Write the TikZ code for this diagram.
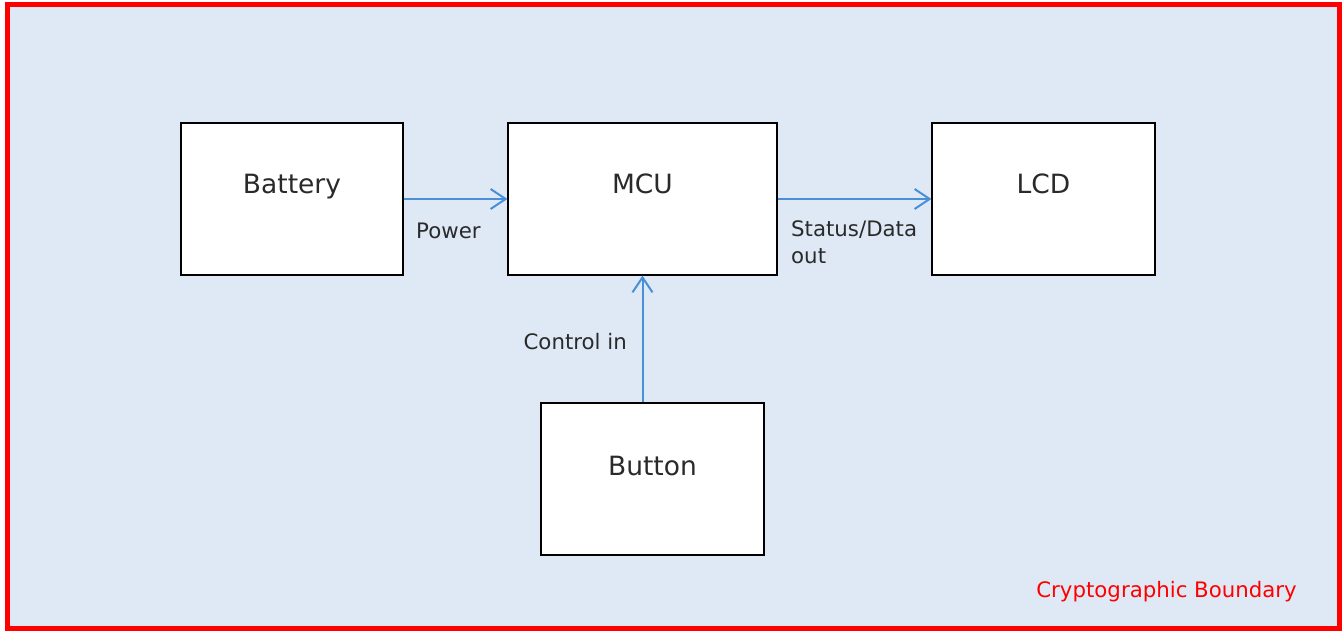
\documentclass[tikz,border=0pt]{standalone}
\usepackage{fontspec}
\setmainfont{DejaVu Sans}
\usetikzlibrary{arrows.meta}
\definecolor{bgblue}{HTML}{DEE9F5}
\definecolor{lineblue}{HTML}{4A90D9}
\definecolor{txtgray}{HTML}{2A2A2A}
\tikzset{
  blockbox/.style={draw=black, line width=1.1pt, fill=white, minimum width=#1, minimum height=152pt, inner sep=0pt},
  blocktext/.style={text=txtgray, font=\fontsize{26.5}{30}\selectfont, inner sep=0pt},
  flow/.style={draw=lineblue, line width=2pt, -{Straight Barb[length=15pt, width=20pt, line width=2pt]}},
  lbl/.style={text=txtgray, font=\fontsize{21.3}{27}\selectfont, inner sep=0pt},
}
\begin{document}
\begin{tikzpicture}[x=1pt, y=-1pt]
\useasboundingbox (0,0) rectangle (1343,630);
\draw[red, line width=5pt, fill=bgblue] (7,4) rectangle (1339,628);
\node[blockbox=222pt] (bat) at (292,199) {};
\node[blockbox=269pt] (mcu) at (642.5,199) {};
\node[blockbox=223pt] (lcd) at (1043.5,199) {};
\node[blockbox=223pt] (btn) at (652.5,479) {};
\node[blocktext] (batT) at (292,187) {Battery};
\node[blocktext] (mcuT) at (642.5,184) {MCU};
\node[blocktext] (lcdT) at (1043.5,184) {LCD};
\node[blocktext] (btnT) at (652.5,466) {Button};
\draw[flow] (bat.east) -- (mcu.west);
\draw[flow] (mcu.east) -- (lcd.west);
\draw[flow] (mcu.south |- btn.north) -- (mcu.south);
\node[lbl, anchor=west] (pw) at (416,231) {Power};
\node[lbl, anchor=north west, align=left] (sd) at (791,220) {Status/Data\\out};
\node[lbl, anchor=east] (ci) at (627,342) {Control in};
\node[lbl, anchor=east, text=red] (cb) at (1297,592) {Cryptographic Boundary};
\end{tikzpicture}
\end{document}
